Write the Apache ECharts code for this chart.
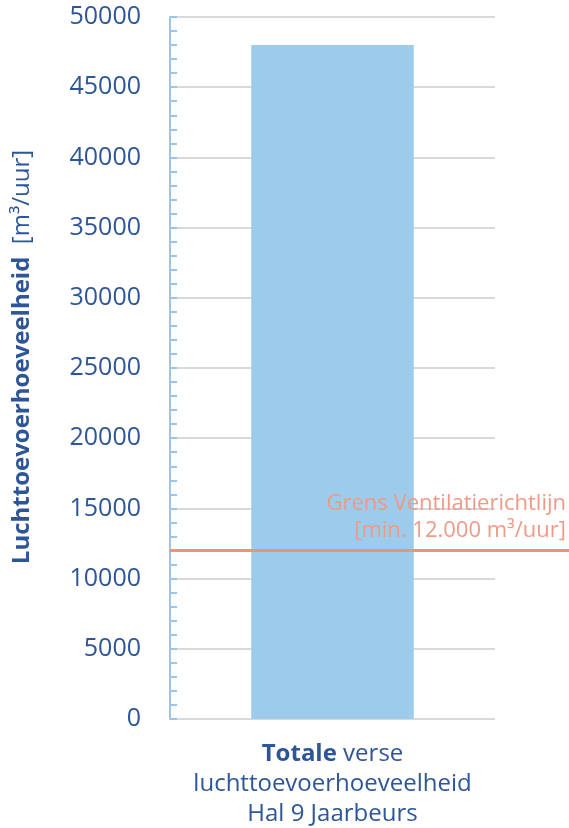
<!DOCTYPE html>
<html><head><meta charset="utf-8">
<script src="https://cdn.jsdelivr.net/npm/echarts@6/dist/echarts.min.js"></script>
<style>html,body{margin:0;padding:0;background:#fff}#c{width:569px;height:828px}</style>
</head><body><div id="c"></div>
<script>
const categories = ['Totale verse luchttoevoerhoeveelheid Hal 9 Jaarbeurs'];
const values = [48000];
const thresholdValue = 12000;
const thresholdLabel = ['Grens Ventilatierichtlijn', '[min. 12.000 m³/uur]'];
const yAxisTitleBold = 'Luchttoevoerhoeveelheid';
const yAxisTitleUnit = '[m³/uur]';
const yMin = 0, yMax = 50000, yStep = 5000;

const blue = '#2E5597';
const font = '"Open Sans", "Noto Sans", sans-serif';
const chart = echarts.init(document.getElementById('c'));
chart.setOption({
  animation: false,
  grid: [
    {left: 170, right: 74, top: 17, bottom: 109, outerBoundsMode: 'none', containLabel: false},
    {left: 170, right: 0, top: 17, bottom: 109, outerBoundsMode: 'none', containLabel: false}
  ],
  xAxis: [
    {type: 'category', gridIndex: 0, data: categories,
     axisLine: {show: false}, axisTick: {show: false},
     axisLabel: {margin: 20, interval: 0,
       formatter: function(v){
         const w = v.split(' ');
         return '{b|' + w[0] + '}{n| ' + w[1] + '}\n{n|' + w[2] + '}\n{n|' + w.slice(3).join(' ') + '}';
       },
       rich: {
         b: {fontFamily: font, fontSize: 24, fontWeight: 'bold', color: blue, lineHeight: 30},
         n: {fontFamily: font, fontSize: 24, color: blue, lineHeight: 30}
       }}},
    {type: 'category', gridIndex: 1, data: categories, show: false}
  ],
  yAxis: [
    {type: 'value', gridIndex: 0, min: yMin, max: yMax, interval: yStep,
     axisLine: {show: true, lineStyle: {color: '#9DC3E6', width: 2}},
     axisTick: {show: true, inside: true, length: 7, lineStyle: {color: '#9DC3E6', width: 2}},
     minorTick: {show: true, splitNumber: 5, length: 7, lineStyle: {color: '#9DC3E6', width: 2}},
     splitLine: {show: true, lineStyle: {color: '#D9D9D9', width: 2}},
     axisLabel: {color: blue, fontFamily: font, fontSize: 25, margin: 29,
       formatter: function(v){ return String(v); }},
     name: '{b|' + yAxisTitleBold + '}{n|  ' + yAxisTitleUnit + '}',
     nameLocation: 'middle', nameRotate: 90, nameGap: 136,
     nameTextStyle: {padding: [0, 0, 0, 22], rich: {
       b: {fontFamily: font, fontSize: 24, fontWeight: 'bold', color: blue},
       n: {fontFamily: font, fontSize: 24, color: blue}
     }}},
    {type: 'value', gridIndex: 1, min: yMin, max: yMax, interval: yStep, show: false}
  ],
  series: [
    {type: 'bar', xAxisIndex: 0, yAxisIndex: 0, data: values, barWidth: '50%',
     itemStyle: {color: '#9DCBEB'}, z: 2},
    {type: 'bar', xAxisIndex: 1, yAxisIndex: 1, data: [], z: 5,
     markLine: {symbol: 'none', silent: true,
       lineStyle: {color: '#EF927C', width: 3, type: 'solid'},
       label: {show: true, position: 'insideEndTop', distance: [3, 6],
         formatter: thresholdLabel.join('\n'),
         color: '#EF9A86', fontFamily: font, fontSize: 22, lineHeight: 27, align: 'right'},
       data: [{yAxis: thresholdValue}]}}
  ]
});
</script></body></html>
